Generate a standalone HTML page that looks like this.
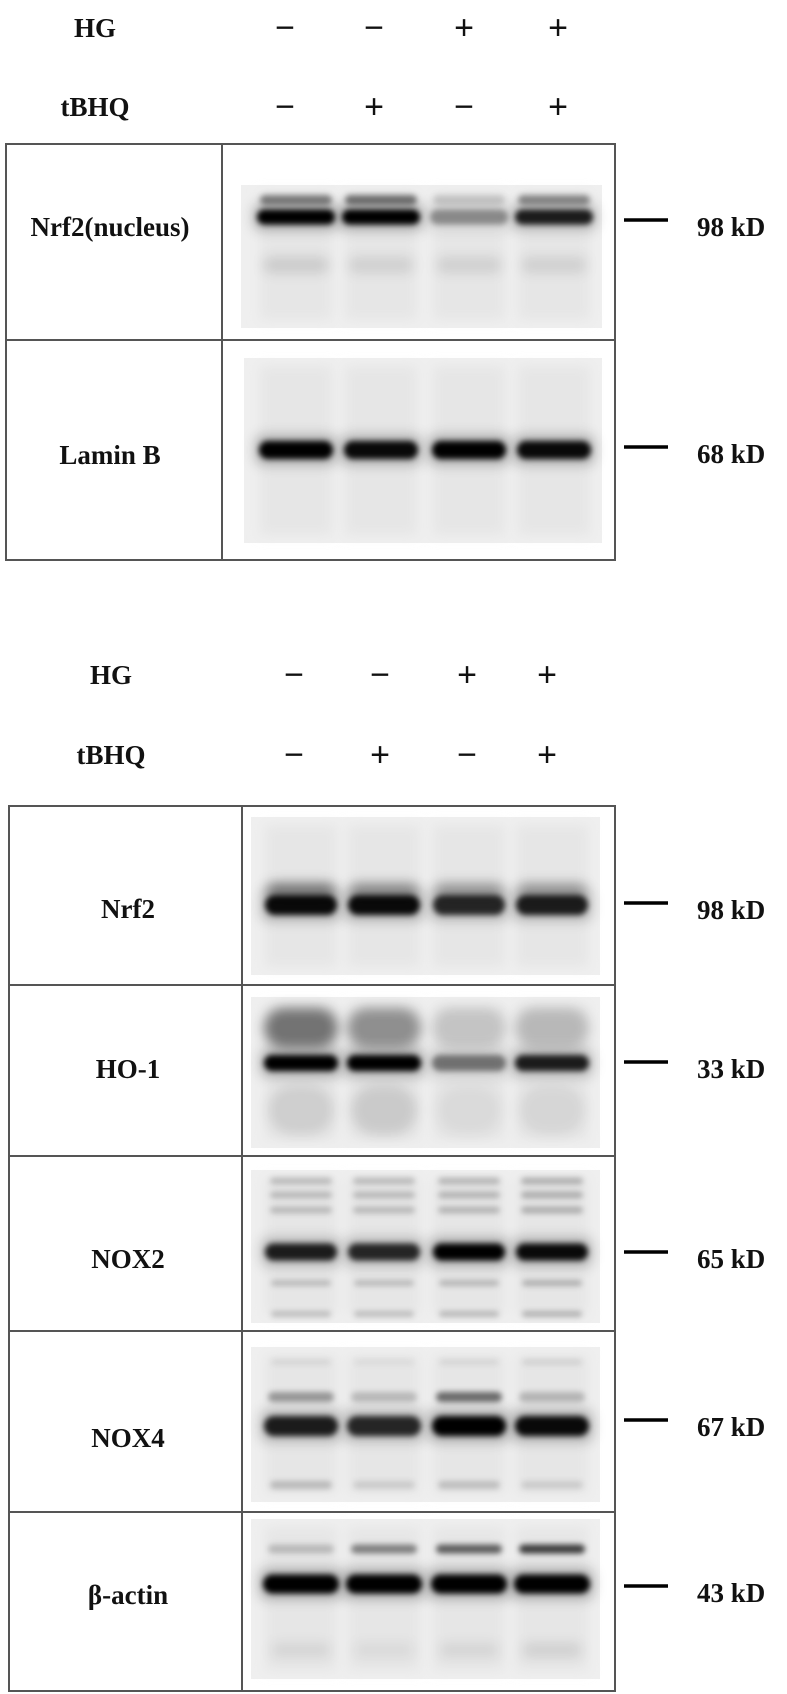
<!DOCTYPE html>
<html><head><meta charset="utf-8"><style>
html,body{margin:0;padding:0;background:#fff;width:787px;height:1694px;overflow:hidden}
svg{display:block}
.lbl{font-family:"Liberation Serif",serif;font-weight:bold;font-size:27px;fill:#111}
.sign{font-family:"Liberation Sans",sans-serif;font-size:34px;fill:#111}
</style></head><body>
<svg id="fig" width="787" height="1694" viewBox="0 0 787 1694" xmlns="http://www.w3.org/2000/svg">
<defs>
<filter id="blur" x="-30%" y="-100%" width="160%" height="300%"><feGaussianBlur stdDeviation="3"/></filter>
<filter id="blur2" x="-30%" y="-100%" width="160%" height="300%"><feGaussianBlur stdDeviation="6"/></filter>
</defs>
<g id="root"></g>
</svg>
<script>
// Treatments per lane
const hgSigns = ["−","−","+","+"];
const tbhqSigns = ["−","+","−","+"];
// Band intensities (0..1) per lane
const nrf2NucMain = [1.0, 1.0, 0.35, 0.85];
const nrf2NucUpper = [0.45, 0.5, 0.15, 0.4];
const laminB = [1.0, 0.95, 1.0, 0.95];
const nrf2Main = [0.95, 0.95, 0.8, 0.85];
const nrf2Upper = [0.45, 0.35, 0.3, 0.3];
const ho1Main = [1.0, 1.0, 0.45, 0.85];
const ho1Upper = [0.5, 0.38, 0.15, 0.2];
const nox2Main = [0.85, 0.8, 1.0, 0.95];
const nox2Faint = [0.2, 0.2, 0.22, 0.25];
const nox4Main = [0.85, 0.8, 1.0, 0.95];
const nox4Upper = [0.35, 0.2, 0.55, 0.22];
const nox4Lower = [0.2, 0.12, 0.18, 0.12];
const actinMain = [1.0, 1.0, 1.0, 1.0];
const actinUpper = [0.2, 0.45, 0.6, 0.75];

const NS = "http://www.w3.org/2000/svg";
const root = document.getElementById('root');
function mk(tag, attrs, parent){ const e=document.createElementNS(NS,tag); for(const k in attrs) e.setAttribute(k,attrs[k]); (parent||root).appendChild(e); return e; }
function txt(s,x,y,cls,anchor,parent){ const t=mk('text',{x:x,y:y,class:cls,'text-anchor':anchor||'middle','dominant-baseline':'central'},parent); t.textContent=s; return t; }

function header(yHG, yT, labelX, lanes){
  const l1 = txt("HG", labelX, yHG, 'lbl');
  
  
  const l2 = txt("tBHQ", labelX, yT, 'lbl');
  
  
  lanes.forEach((x,i)=>{
    const a = txt(hgSigns[i], x, yHG, 'sign');
    
    
    const b = txt(tbhqSigns[i], x, yT, 'sign');
    
    
  });
}

function blot(name, label, labelX, labelY, gel, lanes, rows, marker){
  const g = mk('g',{});
  
  
  const r = mk('rect',{x:gel[0],y:gel[1],width:gel[2]-gel[0],height:gel[3]-gel[1],fill:'#efefef'},g);
  
  
  lanes.forEach((x,i)=>{
    mk('rect',{x:x-36,y:gel[1]+8,width:72,height:gel[3]-gel[1]-16,fill:'#e6e6e6',filter:'url(#blur2)'},g);
  });
  rows.forEach(row=>{
    lanes.forEach((x,i)=>{
      const v=row.vals[i];
      if(row.halo){
        mk('rect',{x:x-row.w/2-4,y:row.y-row.h/2-6,width:row.w+8,height:row.h+12,rx:8,fill:'#000','fill-opacity':0.25*v,filter:'url(#blur2)'},g);
      }
      const b = mk('rect',{x:x-row.w/2,y:row.y-row.h/2,width:row.w,height:row.h,rx:row.h/2,fill:'#000','fill-opacity':Math.min(1,v),filter:row.soft?'url(#blur2)':'url(#blur)'},g);
      
      
    });
  });
  const t = txt(label, labelX, labelY, 'lbl', 'middle', g);
  
  
  const m = mk('line',{x1:624,x2:668,y1:marker[0],y2:marker[0],stroke:'#000','stroke-width':3.5},g);
  
  
  const k = txt(marker[1], 697, marker[0]+7, 'lbl', 'start', g);
  
  
}

function box(x0,x1,xd,ys){
  const g = mk('g',{fill:'none',stroke:'#555','stroke-width':2});
  
  
  mk('rect',{x:x0,y:ys[0],width:x1-x0,height:ys[ys.length-1]-ys[0]},g);
  mk('line',{x1:xd,x2:xd,y1:ys[0],y2:ys[ys.length-1]},g);
  for(let i=1;i<ys.length-1;i++) mk('line',{x1:x0,x2:x1,y1:ys[i],y2:ys[i]},g);
}

// ---- Top panel ----
const lanesTop=[296,381,469,554];
header(28,107,95,[285,374,464,558]);
box(6,615,222,[144,340,560]);
blot('nrf2-nucleus','Nrf2(nucleus)',110,227,[241,185,602,328],lanesTop,[
  {y:200,h:10,w:72,vals:nrf2NucUpper},
  {y:217,h:15,w:78,vals:nrf2NucMain,halo:true},
  {y:265,h:16,w:66,vals:[0.12,0.1,0.1,0.1],soft:true}
],[220,'98 kD']);
blot('lamin-b','Lamin B',110,455,[244,358,602,543],lanesTop,[
  {y:450,h:18,w:74,vals:laminB,halo:true}
],[447,'68 kD']);

// ---- Bottom panel ----
const lanesBot=[301,384,469,552];
header(675,755,111,[294,380,467,547]);
box(9,615,242,[806,985,1156,1331,1512,1691]);
blot('nrf2','Nrf2',128,909,[251,817,600,975],lanesBot,[
  {y:890,h:14,w:68,vals:nrf2Upper,soft:true},
  {y:905,h:20,w:72,vals:nrf2Main,halo:true}
],[903,'98 kD']);
blot('ho-1','HO-1',128,1069,[251,997,600,1148],lanesBot,[
  {y:1028,h:40,w:74,vals:ho1Upper,soft:true},
  {y:1063,h:16,w:74,vals:ho1Main,halo:true},
  {y:1110,h:50,w:66,vals:[0.1,0.12,0.05,0.07],soft:true}
],[1062,'33 kD']);
blot('nox2','NOX2',128,1259,[251,1170,600,1323],lanesBot,[
  {y:1181,h:7,w:62,vals:nox2Faint},
  {y:1195,h:7,w:62,vals:nox2Faint},
  {y:1210,h:7,w:62,vals:nox2Faint},
  {y:1252,h:17,w:72,vals:nox2Main,halo:true},
  {y:1283,h:6,w:60,vals:nox2Faint},
  {y:1314,h:6,w:60,vals:nox2Faint}
],[1252,'65 kD']);
blot('nox4','NOX4',128,1438,[251,1347,600,1502],lanesBot,[
  {y:1362,h:6,w:60,vals:[0.08,0.06,0.08,0.1]},
  {y:1397,h:10,w:66,vals:nox4Upper},
  {y:1426,h:20,w:74,vals:nox4Main,halo:true},
  {y:1485,h:8,w:62,vals:nox4Lower}
],[1420,'67 kD']);
blot('beta-actin','β-actin',128,1595,[251,1519,600,1679],lanesBot,[
  {y:1549,h:9,w:66,vals:actinUpper},
  {y:1584,h:19,w:76,vals:actinMain,halo:true},
  {y:1650,h:14,w:60,vals:[0.08,0.06,0.08,0.1],soft:true}
],[1586,'43 kD']);
</script>
</body></html>
